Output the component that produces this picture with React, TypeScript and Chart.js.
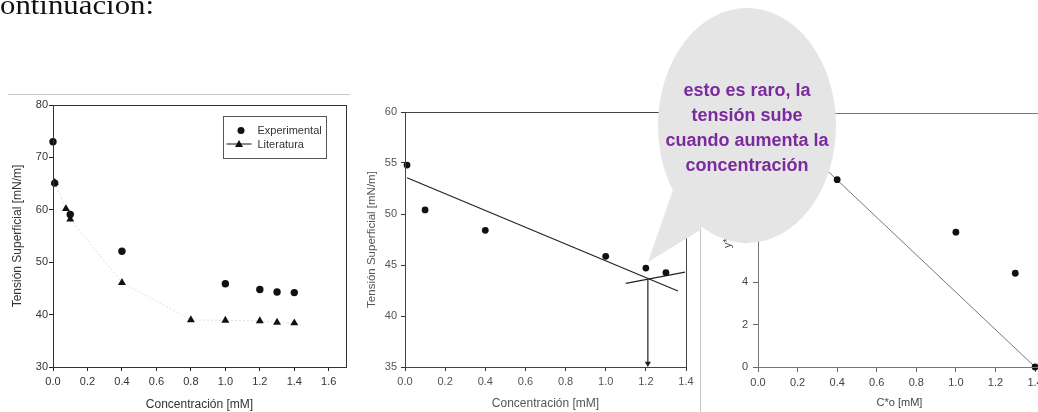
import React, { useEffect, useRef } from "react";
import { Chart, registerables } from "chart.js";
Chart.register(...registerables);

const FONT = "'Liberation Sans', Arial, sans-serif";

// ---- Chart 1: Tensión superficial vs concentración ----
const expX = [0, 0.01, 0.1, 0.4, 1.0, 1.2, 1.3, 1.4];
const expY = [73, 65.1, 59.1, 52.1, 45.9, 44.8, 44.3, 44.2];
const litX = [0.01, 0.075, 0.1, 0.4, 0.8, 1.0, 1.2, 1.3, 1.4];
const litY = [65.2, 60.2, 58.2, 46.1, 39.0, 38.9, 38.8, 38.5, 38.4];
const c1XTicks = [0, 0.2, 0.4, 0.6, 0.8, 1.0, 1.2, 1.4, 1.6];
const c1YTicks = [30, 40, 50, 60, 70, 80];
const legendLabels = ["Experimental", "Literatura"];

// ---- Chart 2: ajuste lineal ----
const c2X = [0.01, 0.1, 0.4, 1.0, 1.2, 1.3];
const c2Y = [54.8, 50.4, 48.4, 45.85, 44.7, 44.25];
const fitX = [0.01, 1.36];
const fitY = [53.55, 42.45];
const fit2X = [1.1, 1.395];
const fit2Y = [43.2, 44.3];
const arrowX = [1.21, 1.21];
const arrowY = [43.55, 35.35];
const c2XTicks = [0, 0.2, 0.4, 0.6, 0.8, 1.0, 1.2, 1.4];
const c2YTicks = [35, 40, 45, 50, 55, 60];

// ---- Chart 3: y*o vs C*o ----
const c3X = [0.4, 1.0, 1.3, 1.4];
const c3Y = [8.85, 6.37, 4.43, 0];
const c3LineX = [0.2, 1.4];
const c3LineY = [10.6, 0];
const c3XTicks = [0, 0.2, 0.4, 0.6, 0.8, 1.0, 1.2, 1.4];
const c3YTicks = [0, 2, 4, 6, 8, 10, 12];

const bubbleLines = ["esto es raro, la", "tensión sube", "cuando aumenta la", "concentración"];

const pts = (xs: number[], ys: number[]) => xs.map((x, i) => ({ x, y: ys[i] }));

function axis(o: any) {
  const isX = o.pos === "x";
  return {
    type: "linear",
    position: isX ? "bottom" : "left",
    min: o.min,
    max: o.max,
    afterBuildTicks: (s: any) => {
      s.ticks = o.ticks.map((v: number) => ({ value: v }));
    },
    afterFit: (s: any) => {
      if (isX) s.height = o.size;
      else s.width = o.size;
    },
    grid: {
      display: true,
      drawOnChartArea: false,
      drawTicks: true,
      tickLength: o.tickLen,
      color: o.color,
      lineWidth: 1,
    },
    border: { display: true, color: o.color, width: 1 },
    ticks: {
      color: o.labelColor,
      font: { family: FONT, size: o.tickSize },
      padding: o.tickPad,
      autoSkip: false,
      maxRotation: 0,
      callback: (v: any) => Number(v).toFixed(o.decimals),
    },
    title: {
      display: true,
      text: o.title,
      color: o.labelColor,
      font: { family: FONT, size: o.titleSize },
      padding: isX ? { top: 0, bottom: o.titlePad } : { top: o.titlePad, bottom: 0 },
    },
  };
}

function boxPlugin(color: string, legend: boolean) {
  return {
    id: "boxPlugin",
    afterDraw(chart: any) {
      const { ctx, chartArea: a } = chart;
      ctx.save();
      ctx.strokeStyle = color;
      ctx.lineWidth = 1;
      ctx.strokeRect(Math.round(a.left) + 0.5, Math.round(a.top) + 0.5, Math.round(a.right - a.left), Math.round(a.bottom - a.top));
      if (legend) {
        ctx.strokeStyle = "#555";
        ctx.strokeRect(223.5, 21.5, 103, 42);
        ctx.fillStyle = "#111";
        ctx.beginPath();
        ctx.arc(241, 35.5, 3.5, 0, Math.PI * 2);
        ctx.fill();
        ctx.strokeStyle = "#111";
        ctx.beginPath();
        ctx.moveTo(226.5, 49);
        ctx.lineTo(251.5, 49);
        ctx.stroke();
        ctx.beginPath();
        ctx.moveTo(239, 45);
        ctx.lineTo(243, 52);
        ctx.lineTo(235, 52);
        ctx.closePath();
        ctx.fill();
        ctx.fillStyle = "#333";
        ctx.font = `11px ${FONT}`;
        ctx.textBaseline = "middle";
        ctx.textAlign = "left";
        ctx.fillText(legendLabels[0], 257.5, 36);
        ctx.fillText(legendLabels[1], 257.5, 49.5);
      }
      ctx.restore();
    },
  };
}

function useChart(ref: any, cfg: () => any) {
  useEffect(() => {
    const chart = new Chart(ref.current, cfg());
    return () => chart.destroy();
  }, []);
}

const dot = (data: any, r = 3.3) => ({
  data,
  showLine: false,
  pointStyle: "circle",
  pointRadius: r,
  pointBackgroundColor: "#111",
  pointBorderColor: "#111",
  pointBorderWidth: 0,
  clip: false,
});
const seg = (data: any, color: string, w: number) => ({
  data,
  showLine: true,
  pointRadius: 0,
  borderColor: color,
  borderWidth: w,
  clip: false,
});

const baseOpts = (padding: any, scales: any) => ({
  responsive: false,
  animation: false,
  events: [],
  layout: { padding },
  plugins: { legend: { display: false }, tooltip: { enabled: false } },
  scales,
});

export default function App() {
  const r1 = useRef<HTMLCanvasElement>(null);
  const r2 = useRef<HTMLCanvasElement>(null);
  const r3 = useRef<HTMLCanvasElement>(null);

  useChart(r1, () => ({
    type: "scatter",
    data: {
      datasets: [
        dot(pts(expX, expY), 3.7),
        {
          data: pts(litX, litY),
          showLine: true,
          borderColor: "#dedede",
          borderWidth: 1,
          borderDash: [2, 2],
          pointStyle: "triangle",
          pointRadius: 4.6,
          pointBackgroundColor: "#111",
          pointBorderColor: "#111",
          pointBorderWidth: 0,
          clip: false,
        },
      ],
    },
    options: baseOpts({ left: 0, top: 10, right: 6, bottom: 0 }, {
      x: axis({ pos: "x", min: 0, max: 1.7, ticks: c1XTicks, size: 45, title: "Concentración [mM]", titleSize: 12, titlePad: 0, tickSize: 11, tickPad: 4, tickLen: 4, color: "#222", labelColor: "#333", decimals: 1 }),
      y: axis({ pos: "y", min: 30, max: 80, ticks: c1YTicks, size: 53, title: "Tensión Superficial [mN/m]", titleSize: 12, titlePad: 10, tickSize: 11, tickPad: 1, tickLen: 4, color: "#222", labelColor: "#333", decimals: 0 }),
    }),
    plugins: [boxPlugin("#333", true)],
  }));

  useChart(r2, () => ({
    type: "scatter",
    data: {
      datasets: [
        dot(pts(c2X, c2Y), 3.4),
        seg(pts(fitX, fitY), "#222", 1.2),
        seg(pts(fit2X, fit2Y), "#222", 1.2),
        {
          data: pts(arrowX, arrowY),
          showLine: true,
          borderColor: "#222",
          borderWidth: 1.2,
          pointStyle: "triangle",
          rotation: 180,
          pointRadius: [0, 3.6],
          pointBackgroundColor: "#222",
          pointBorderWidth: 0,
          clip: false,
        },
      ],
    },
    options: baseOpts({ left: 0, top: 17, right: 14, bottom: 0 }, {
      x: axis({ pos: "x", min: 0, max: 1.4, ticks: c2XTicks, size: 45, title: "Concentración [mM]", titleSize: 12, titlePad: 1.5, tickSize: 11, tickPad: 4, tickLen: 4, color: "#333", labelColor: "#555", decimals: 1 }),
      y: axis({ pos: "y", min: 35, max: 60, ticks: c2YTicks, size: 50, title: "Tensión Superficial [mN/m]", titleSize: 11.5, titlePad: 10, tickSize: 11, tickPad: 4, tickLen: 4, color: "#333", labelColor: "#555", decimals: 0 }),
    }),
    plugins: [boxPlugin("#444", false)],
  }));

  useChart(r3, () => ({
    type: "scatter",
    data: {
      datasets: [dot(pts(c3X, c3Y), 3.4), seg(pts(c3LineX, c3LineY), "#777", 1)],
    },
    options: baseOpts({ left: 0, top: 18, right: 19, bottom: 0 }, {
      x: axis({ pos: "x", min: 0, max: 1.43, ticks: c3XTicks, size: 45, title: "C*o [mM]", titleSize: 11, titlePad: 2.4, tickSize: 11, tickPad: 4, tickLen: 5, color: "#666", labelColor: "#444", decimals: 1 }),
      y: axis({ pos: "y", min: 0, max: 12, ticks: c3YTicks, size: 58, title: "y*o", titleSize: 11, titlePad: 21, tickSize: 11, tickPad: 5, tickLen: 5, color: "#666", labelColor: "#444", decimals: 0 }),
    }),
    plugins: [boxPlugin("#777", false)],
  }));

  return (
    <div style={{ position: "fixed", left: 0, top: 0, width: 1038, height: 412, overflow: "hidden", background: "#fff" }}>
      <canvas ref={r1} width={352} height={317} style={{ position: "absolute", left: 0, top: 95, display: "block" }} />
      <canvas ref={r2} width={345} height={317} style={{ position: "absolute", left: 355, top: 95, display: "block" }} />
      <canvas ref={r3} width={360} height={317} style={{ position: "absolute", left: 700, top: 95, display: "block" }} />
      <svg width={1038} height={412} style={{ position: "absolute", left: 0, top: 0, pointerEvents: "none" }}>
        <text x={0} y={14} fontFamily="'Liberation Serif', 'DejaVu Serif', serif" fontSize={27} fill="#111" textLength={154} lengthAdjust="spacingAndGlyphs">
          ontinuación:
        </text>
        <line x1={8} y1={94.5} x2={350} y2={94.5} stroke="#c8c8c8" strokeWidth={1} />
        <line x1={700.5} y1={100} x2={700.5} y2={412} stroke="#c8c8c8" strokeWidth={1} />
        <path d="M 673 190 L 648 262 L 702 229 Z" fill="#e5e5e5" />
        <ellipse cx={747} cy={125.5} rx={89} ry={117.5} fill="#e5e5e5" />
        {bubbleLines.map((t, i) => (
          <text key={i} x={747} y={90 + i * 25} textAnchor="middle" dominantBaseline="central" fontFamily={FONT} fontWeight="bold" fontSize={18} fill="#7b2a9e">
            {t}
          </text>
        ))}
      </svg>
    </div>
  );
}
